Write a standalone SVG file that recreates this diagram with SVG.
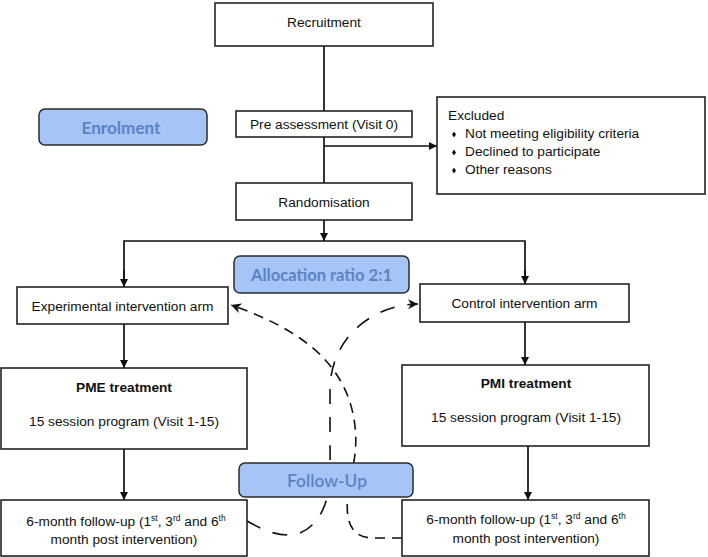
<svg xmlns="http://www.w3.org/2000/svg" width="708" height="557" viewBox="0 0 708 557">
<style>
.box{fill:#fff;stroke:#222;stroke-width:1.6}
.lbl{fill:#a6c4f6;stroke:#2b2b2b;stroke-width:1.5}
.t{font-family:"Liberation Sans",Arial,sans-serif;font-size:13.7px;fill:#111;text-anchor:middle}
.tl{font-family:"Liberation Sans",Arial,sans-serif;font-size:13.7px;fill:#111}
.b{font-weight:bold}
.lt{font-family:Lato,"Open Sans",sans-serif;font-weight:bold;font-size:17px;fill:#5b83c4;text-anchor:middle}
.ln{fill:none;stroke:#111;stroke-width:1.7}
.da{fill:none;stroke:#111;stroke-width:1.6;stroke-dasharray:15 13}
.db{fill:none;stroke:#111;stroke-width:1.6;stroke-dasharray:10 7}
</style>
<defs>
<marker id="ah" markerUnits="userSpaceOnUse" markerWidth="10" markerHeight="10" refX="8" refY="4" orient="auto">
<path d="M0,0 L8,4 L0,8 z" fill="#111"/>
</marker>
<marker id="sh" markerUnits="userSpaceOnUse" markerWidth="12" markerHeight="12" refX="10" refY="5" orient="auto-start-reverse">
<path d="M0,0 L10,5 L0,10 L3,5 z" fill="#111"/>
</marker>
</defs>

<g id="connectors">
<line class="ln" x1="324" y1="46" x2="324" y2="111"/>
<line class="ln" x1="324" y1="137" x2="324" y2="183"/>
<line class="ln" x1="324" y1="146" x2="437" y2="146" marker-end="url(#ah)"/>
<line class="ln" x1="324" y1="220" x2="324" y2="241" marker-end="url(#ah)"/>
<polyline class="ln" points="124,287 124,241 525,241 525,284"/>
<line class="ln" x1="124" y1="270" x2="124" y2="287" marker-end="url(#ah)"/>
<line class="ln" x1="525" y1="270" x2="525" y2="284" marker-end="url(#ah)"/>
<line class="ln" x1="124" y1="324" x2="124" y2="368" marker-end="url(#ah)"/>
<line class="ln" x1="525" y1="322" x2="525" y2="365" marker-end="url(#ah)"/>
<line class="ln" x1="124" y1="449" x2="124" y2="500" marker-end="url(#ah)"/>
<line class="ln" x1="528" y1="446" x2="528" y2="500" marker-end="url(#ah)"/>
<path class="da" d="M247,521 C268,533 300,548 320,515 C332,495 330,470 330,440 L330,390 C330,340 370,305 418,304" marker-end="url(#sh)"/>
<path class="db" d="M402,538 L372,538 C340,537 346,500 352,470 C360,440 355,405 340,380 C320,345 280,322 231,305" marker-end="url(#sh)"/>
</g>

<g id="recruitment">
<rect class="box" x="215" y="3" width="218" height="43"/>
<text class="t" x="324" y="26.5">Recruitment</text>
</g>

<g id="enrolment">
<rect class="lbl" x="39" y="109" width="168" height="36" rx="6"/>
<text class="lt" x="121" y="133.5" textLength="79" lengthAdjust="spacingAndGlyphs">Enrolment</text>
</g>

<g id="pre-assessment">
<rect class="box" x="236" y="111" width="176" height="26"/>
<text class="t" x="324" y="129.3">Pre assessment (Visit 0)</text>
</g>

<g id="excluded">
<rect class="box" x="437" y="97" width="268" height="97"/>
<text class="tl" x="448" y="120">Excluded</text>
<path d="M452,134.5 l2,-3 l2,3 l-2,3 z M452,152.5 l2,-3 l2,3 l-2,3 z M452,170.5 l2,-3 l2,3 l-2,3 z" fill="#111"/>
<text class="tl" x="465" y="138.3">Not meeting eligibility criteria</text>
<text class="tl" x="465" y="156.3">Declined to participate</text>
<text class="tl" x="465" y="174.3">Other reasons</text>
</g>

<g id="randomisation">
<rect class="box" x="236" y="183" width="176" height="37"/>
<text class="t" x="324" y="206.7">Randomisation</text>
</g>

<g id="allocation">
<rect class="lbl" x="234" y="256" width="175" height="37" rx="6"/>
<text class="lt" x="321.5" y="280.5" textLength="141" lengthAdjust="spacingAndGlyphs">Allocation ratio 2:1</text>
</g>

<g id="experimental-arm">
<rect class="box" x="17" y="287" width="211" height="37"/>
<text class="t" x="122.5" y="310.7">Experimental intervention arm</text>
</g>

<g id="control-arm">
<rect class="box" x="420" y="284" width="209" height="38"/>
<text class="t" x="524.5" y="308.3">Control intervention arm</text>
</g>

<g id="pme">
<rect class="box" x="1" y="368" width="246" height="81"/>
<text class="t b" x="124" y="392.3">PME treatment</text>
<text class="t" x="124" y="425.7">15 session program (Visit 1-15)</text>
</g>

<g id="pmi">
<rect class="box" x="402" y="365" width="247" height="81"/>
<text class="t b" x="526" y="388.3">PMI treatment</text>
<text class="t" x="526" y="421.7">15 session program (Visit 1-15)</text>
</g>

<g id="follow-up-label">
<rect class="lbl" x="239" y="463" width="174" height="34" rx="6"/>
<text class="lt" x="327" y="486.7" style="font-weight:600" textLength="80" lengthAdjust="spacingAndGlyphs">Follow-Up</text>
</g>

<g id="followup-left">
<rect class="box" x="1" y="500" width="246" height="56"/>
<text class="t" x="126" y="525.7">6-month follow-up (1<tspan font-size="8.5" dy="-5">st</tspan><tspan dy="5">, 3</tspan><tspan font-size="8.5" dy="-5">rd</tspan><tspan dy="5"> and 6</tspan><tspan font-size="8.5" dy="-5">th</tspan></text>
<text class="t" x="124" y="543.7">month post intervention)</text>
</g>

<g id="followup-right">
<rect class="box" x="402" y="500" width="247" height="56"/>
<text class="t" x="526" y="524.3">6-month follow-up (1<tspan font-size="8.5" dy="-5">st</tspan><tspan dy="5">, 3</tspan><tspan font-size="8.5" dy="-5">rd</tspan><tspan dy="5"> and 6</tspan><tspan font-size="8.5" dy="-5">th</tspan></text>
<text class="t" x="526" y="543">month post intervention)</text>
</g>
</svg>
